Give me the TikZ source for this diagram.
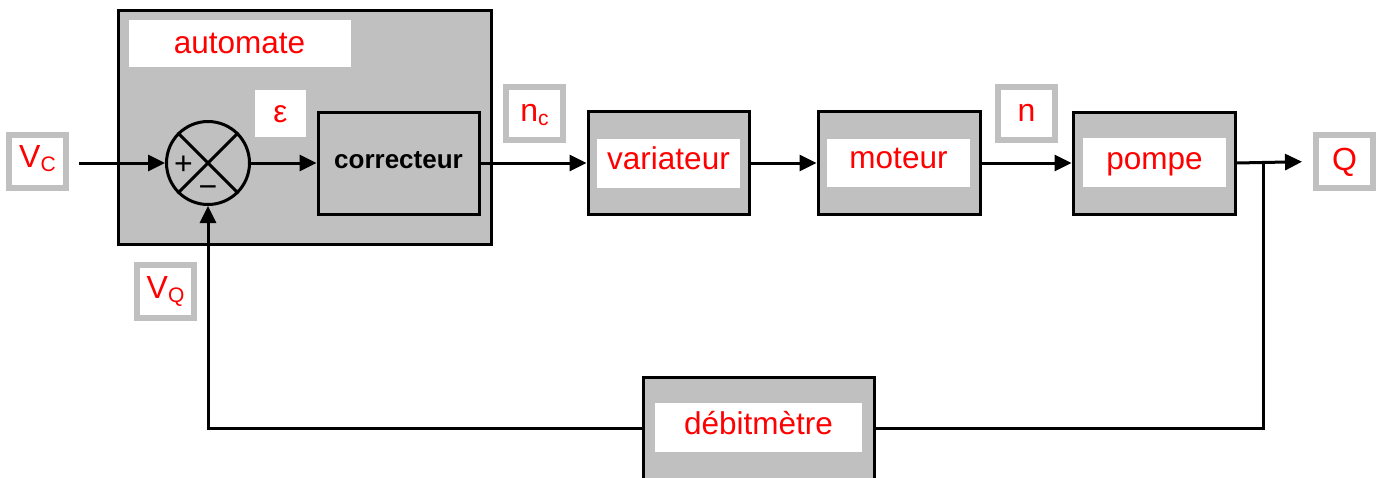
\documentclass[tikz,border=0pt]{standalone}
\usepackage{fontspec}
\setmainfont{Liberation Sans}
\usetikzlibrary{arrows.meta}
\definecolor{boxgray}{HTML}{C0C0C0}
\definecolor{lblred}{HTML}{FF0000}
\begin{document}
\begin{tikzpicture}[x=1pt,y=-1pt,
  blk/.style={draw=black,line width=3pt,fill=boxgray,rectangle,inner sep=0pt},
  wlabel/.style={fill=white,rectangle,inner sep=0pt,text=lblred,font=\fontsize{31.5}{31.5}\selectfont,text height=22pt,text depth=11pt},
  sigbox/.style={draw=boxgray,line width=6pt,fill=white,rectangle,inner sep=0pt,minimum width=57pt,minimum height=53pt,text=lblred,font=\fontsize{32}{32}\selectfont,text height=23pt,text depth=10pt},
  sign/.style={font=\fontsize{32}{32}\selectfont,inner sep=0pt,anchor=base},
  conn/.style={line width=3pt,draw=black},
  arr/.style={conn,-{Triangle[length=17pt,width=16pt]}}
]
\useasboundingbox (0,0) rectangle (1383,477);
% automate
\node[blk,minimum width=373pt,minimum height=234pt] (aut) at (304.5,127) {};
\node[wlabel,minimum width=222pt,minimum height=47pt,text depth=2pt] (autlbl) at (239.5,43.5) {automate};
\node[wlabel,minimum width=51pt,minimum height=47pt,text depth=5pt] (eps) at (280.5,113.5) {ε};
% summing point
\node[draw=black,line width=3pt,fill=boxgray,circle,minimum size=83pt,inner sep=0pt] (sum) at (208,163) {};
\draw[conn] (sum.45) -- (sum.225) (sum.135) -- (sum.315);
\node[sign] (plus) at (183.5,174.3) {+};
\node[sign] (minus) at (208,197.3) {−};
% correcteur
\node[blk,minimum width=161pt,minimum height=102pt,font=\bfseries\fontsize{26}{26}\selectfont,text height=19pt,text depth=9pt] (cor) at (398.5,163) {correcteur};
% blocks
\node[blk,minimum width=161pt,minimum height=103pt] (var) at (668.5,163) {};
\node[wlabel,minimum width=143pt,minimum height=49pt] (varl) at (668.5,163.5) {variateur};
\node[blk,minimum width=162pt,minimum height=103pt] (mot) at (899,163) {};
\node[wlabel,minimum width=143pt,minimum height=48pt] (motl) at (898.5,163) {moteur};
\node[blk,minimum width=162pt,minimum height=102pt] (pom) at (1154,163) {};
\node[wlabel,minimum width=143pt,minimum height=49pt,text depth=9pt] (poml) at (1154.5,162.5) {pompe};
\node[blk,minimum width=231pt,minimum height=102pt] (deb) at (758.5,428) {};
\node[wlabel,minimum width=207pt,minimum height=49pt,text depth=8pt] (debl) at (758.5,427.5) {débitmètre};
% signal labels
\node[sigbox] (vc) at (37.5,161) {V{\fontsize{21}{21}\selectfont\raisebox{-4pt}{C}}};
\node[sigbox,text depth=8pt] (nc) at (534.5,113.5) {n{\fontsize{21}{21}\selectfont\raisebox{-4pt}{c}}};
\node[sigbox,text depth=8pt] (n) at (1026.5,113.5) {n};
\node[sigbox,text depth=6pt] (q) at (1344.5,161.5) {Q};
\node[sigbox] (vq) at (165.5,291.5) {V{\fontsize{21}{21}\selectfont\raisebox{-4pt}{Q}}};
% connectors
\coordinate (vcout) at (79,163);
\coordinate (branch) at (1263,163);
\draw[arr] (vcout) -- (sum.west);
\draw[arr] (sum.east) -- (cor.west);
\draw[arr] (cor.east) -- (var.west);
\draw[arr] (var.east) -- (mot.west);
\draw[arr] (mot.east) -- (pom.west);
\draw[arr,shorten >=11pt] (pom.east) -- (q.west);
\draw[conn] (branch) |- (deb.east);
\draw[arr] (deb.west) -| (sum.south);
\end{tikzpicture}
\end{document}
